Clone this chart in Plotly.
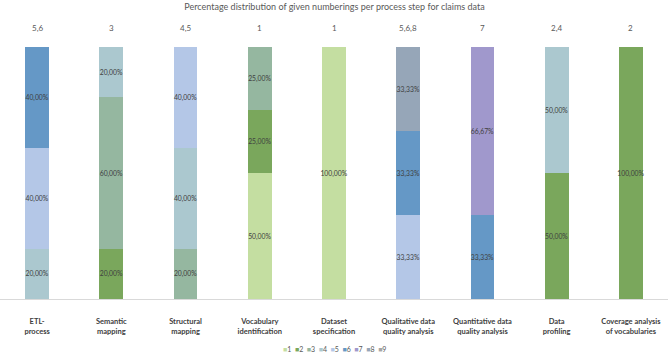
import plotly.graph_objects as go

categories = ["ETL-<br>process", "Semantic<br>mapping", "Structural<br>mapping",
              "Vocabulary<br>identification", "Dataset<br>specification",
              "Qualitative data<br>quality analysis", "Quantitative data<br>quality analysis",
              "Data<br>profiling", "Coverage analysis<br>of vocabularies"]
top_labels = ["5,6", "3", "4,5", "1", "1", "5,6,8", "7", "2,4", "2"]
series_names = ["1", "2", "3", "4", "5", "6", "7", "8", "9"]
N = None
s1 = [N, N, N, 50, 100, N, N, N, N]
s2 = [N, 20, N, 25, N, N, N, 50, 100]
s3 = [N, 60, 20, 25, N, N, N, N, N]
s4 = [20, 20, 40, N, N, N, N, 50, N]
s5 = [40, N, 40, N, N, 33.33, N, N, N]
s6 = [40, N, N, N, N, 33.33, 33.33, N, N]
s7 = [N, N, N, N, N, N, 66.67, N, N]
s8 = [N, N, N, N, N, 33.33, N, N, N]
s9 = [N, N, N, N, N, N, N, N, N]
series_values = [s1, s2, s3, s4, s5, s6, s7, s8, s9]
colors = ["#c4dea1", "#7aa75c", "#95b7a0", "#abc8cf", "#b4c7e7",
          "#6598c6", "#a098cc", "#96a6b8", "#a5a5a5"]

def fmt(v):
    return "" if v is None else f"{v:.2f}".replace(".", ",") + "%"

fig = go.Figure()
for name, vals, col in zip(series_names, series_values, colors):
    fig.add_trace(go.Bar(
        x=categories, y=vals, name=name, marker=dict(color=col, line=dict(width=0)),
        text=[fmt(v) for v in vals], textposition="inside", insidetextanchor="middle",
        textangle=0, constraintext="none",
        textfont=dict(size=6.8, color="#404040", family="Lato"),
        hoverinfo="skip", showlegend=False))

for c, t in zip(categories, top_labels):
    fig.add_annotation(x=c, y=1, xref="x", yref="paper", text=t, showarrow=False,
                       yanchor="bottom", yshift=12,
                       font=dict(size=8, color="#595959", family="Lato"))

legend_txt = "  ".join(f"<span style='color:{c}'>■</span>{n}" for n, c in zip(series_names, colors))
fig.add_annotation(x=0.5, y=-0.198, xref="paper", yref="paper", text=legend_txt,
                   showarrow=False, yanchor="middle",
                   font=dict(size=7, color="#595959", family="Lato"))

fig.update_layout(
    width=669, height=358, barmode="stack", bargap=0.68,
    margin=dict(l=0, r=1, t=47, b=59),
    paper_bgcolor="white", plot_bgcolor="white",
    title=dict(text="Percentage distribution of given numberings per process step for claims data",
               x=0.5, xanchor="center", y=0.99, yanchor="top",
               font=dict(size=9, color="#595959", family="Lato")),
    uniformtext=dict(minsize=6, mode="show"),
    xaxis=dict(showline=True, linecolor="#d9d9d9", linewidth=1, ticks="",
               ticklabelstandoff=15,
               tickfont=dict(size=7.5, color="#404040", family="Lato", weight="bold")),
    yaxis=dict(range=[0, 100], visible=False),
    showlegend=False,
)
fig.write_html("out.html", config={"displayModeBar": False},
               post_script="document.body.style.margin='0';")
